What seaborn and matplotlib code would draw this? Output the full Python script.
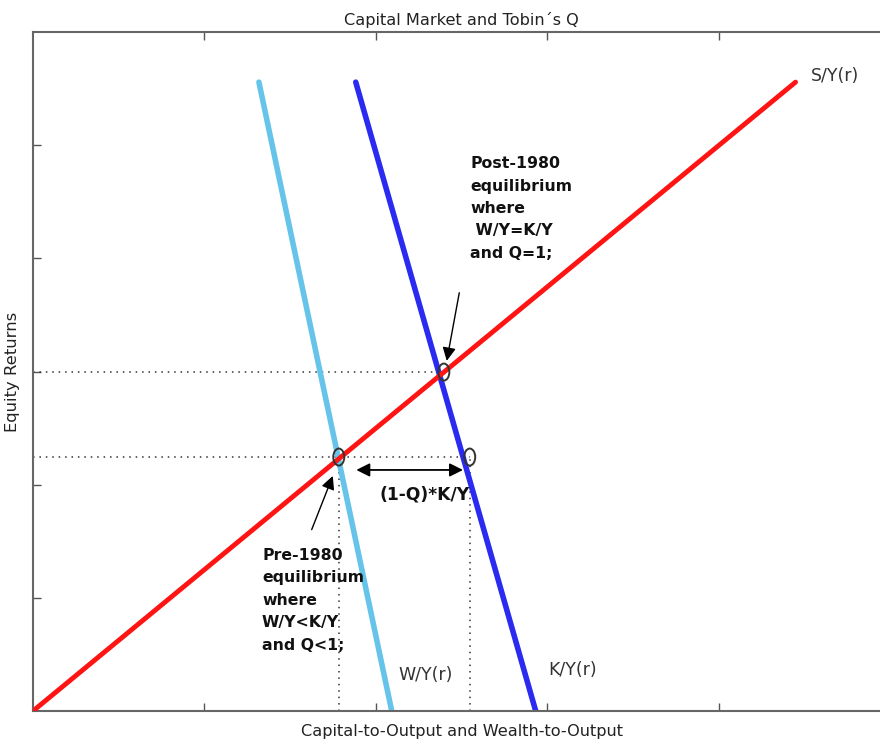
import matplotlib
matplotlib.use("Agg")
import matplotlib.pyplot as plt
from matplotlib.patches import Ellipse
import seaborn as sns
import pandas as pd

# Data (in axis units)
sy_x = [0.0, 4.449]
sy_y = [0.0, 5.557]
wy_x = [1.318, 2.093]
wy_y = [5.557, 0.0]
ky_x = [1.883, 2.933]
ky_y = [5.557, 0.0]
post_eq = (2.397, 2.995)
pre_eq = (1.784, 2.244)
ky_pt = (2.548, 2.244)

x_ticks = [1, 2, 3, 4]
y_ticks = [1, 2, 3, 4, 5]

sns.set_style("white")
plt.rcParams['font.family'] = ['DejaVu Sans']

fig = plt.figure(figsize=(8.8, 7.4), dpi=100)
ax = fig.add_axes([33/880, 29/740, (890-33)/880, (711-32)/740])

df_sy = pd.DataFrame({"x": sy_x, "y": sy_y})
df_wy = pd.DataFrame({"x": wy_x, "y": wy_y})
df_ky = pd.DataFrame({"x": ky_x, "y": ky_y})

sns.lineplot(data=df_sy, x="x", y="y", ax=ax, color="#ff1414", lw=3.5, sort=False, zorder=3)
sns.lineplot(data=df_wy, x="x", y="y", ax=ax, color="#66c4ea", lw=4.0, sort=False, zorder=2)
sns.lineplot(data=df_ky, x="x", y="y", ax=ax, color="#2a2af0", lw=4.0, sort=False, zorder=2)

# dotted guides
dot = dict(color="#333333", lw=1.1, ls=(0, (1, 3.2)), zorder=1)
ax.plot([0, post_eq[0]], [post_eq[1], post_eq[1]], **dot)
ax.plot([0, ky_pt[0]], [pre_eq[1], pre_eq[1]], **dot)
ax.plot([pre_eq[0], pre_eq[0]], [0, pre_eq[1]], **dot)
ax.plot([ky_pt[0], ky_pt[0]], [0, ky_pt[1]], **dot)

# circles at points
for (px, py) in [post_eq, pre_eq, ky_pt]:
    ax.add_patch(Ellipse((px, py), width=11/171.4, height=17/113.2, fill=False,
                         ec="#333333", lw=1.4, zorder=5))

ax.set_xlim(0, 5)
ax.set_ylim(0, 6)
ax.set_xticks(x_ticks)
ax.set_yticks(y_ticks)
ax.set_xticklabels([])
ax.set_yticklabels([])
ax.tick_params(direction="in", length=6, width=1, color="#555555",
               top=True, bottom=True, left=True, right=False)
for s in ax.spines.values():
    s.set_color("#666666")
    s.set_linewidth(1.5)

ax.set_title("Capital Market and Tobin\u00b4s Q", fontsize=11.6, color="#222222", pad=5)
ax.set_xlabel("Capital-to-Output and Wealth-to-Output", fontsize=11.6, color="#222222", labelpad=6)
ax.set_ylabel("Equity Returns", fontsize=11.8, color="#222222", labelpad=6)

# arrows
ax.annotate("", xy=(2.411, 3.07), xytext=(2.49, 3.72),
            arrowprops=dict(arrowstyle="-|>", color="black", lw=1.0, mutation_scale=20), zorder=6)
ax.annotate("", xy=(1.755, 2.10), xytext=(1.62, 1.58),
            arrowprops=dict(arrowstyle="-|>", color="black", lw=1.0, mutation_scale=20), zorder=6)
ax.annotate("", xy=(2.525, 2.13), xytext=(1.87, 2.13),
            arrowprops=dict(arrowstyle="<|-|>", color="black", lw=1.3, mutation_scale=20), zorder=6)

bold = dict(fontsize=11.3, fontweight="bold", color="#111111", linespacing=1.62)
ax.text((470-33)/171.4, (711-156)/113.2, "Post-1980\nequilibrium\nwhere\n W/Y=K/Y\nand Q=1;",
        ha="left", va="top", **bold)
ax.text((262-33)/171.4, (711-548)/113.2, "Pre-1980\nequilibrium\nwhere\nW/Y<K/Y\nand Q<1;",
        ha="left", va="top", **bold)
ax.text((425-33)/171.4, (711-494)/113.2, "(1-Q)*K/Y", ha="center", va="center",
        fontsize=12.3, fontweight="bold", color="#111111")

lab = dict(fontsize=12.5, color="#333333")
ax.text((811-33)/171.4, (711-76)/113.2, "S/Y(r)", ha="left", va="center", **lab)
ax.text((398-33)/171.4, (711-675)/113.2, "W/Y(r)", ha="left", va="center", **lab)
ax.text((548-33)/171.4, (711-670)/113.2, "K/Y(r)", ha="left", va="center", **lab)

fig.savefig("out.png", dpi=100)
